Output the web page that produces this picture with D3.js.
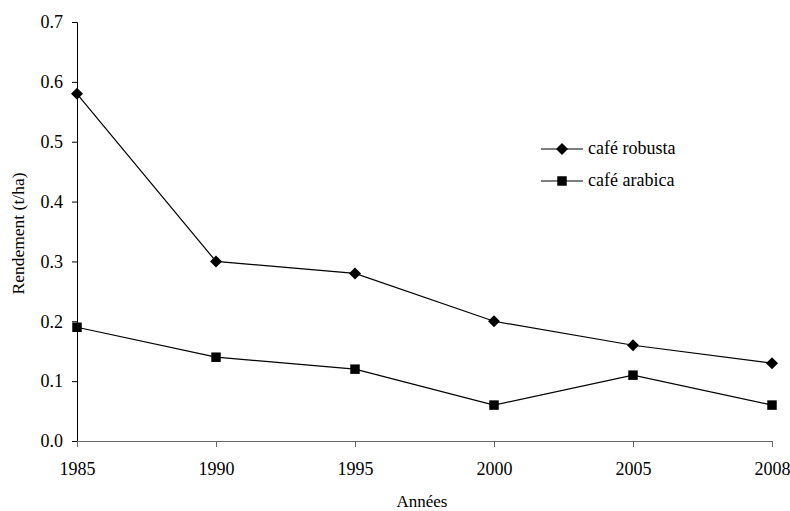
<!DOCTYPE html>
<html>
<head>
<meta charset="utf-8">
<script src="https://cdn.jsdelivr.net/npm/d3@7"></script>
<style>
    body { margin: 0; background: #fff; }
</style>
</head>
<body>
<div id="chart"></div>
<script>
var years = ["1985", "1990", "1995", "2000", "2005", "2008"];
var robusta = [0.58, 0.30, 0.28, 0.20, 0.16, 0.13];
var arabica = [0.19, 0.14, 0.12, 0.06, 0.11, 0.06];
var yTicks = [0, 0.1, 0.2, 0.3, 0.4, 0.5, 0.6, 0.7];

var width = 790, height = 511;
var margin = { left: 77, right: 18, top: 22, bottom: 70 };
var FONT = "'Liberation Serif', 'Times New Roman', serif";

var svg = d3.select("#chart").append("svg")
    .attr("width", width)
    .attr("height", height)
    .attr("font-family", FONT);

var x = d3.scalePoint()
    .domain(years)
    .range([margin.left, width - margin.right]);

var y = d3.scaleLinear()
    .domain([0, 0.7])
    .range([height - margin.bottom, margin.top]);

// y axis
var yAxis = svg.append("g")
    .attr("transform", "translate(" + margin.left + ",0)")
    .call(d3.axisLeft(y).tickValues(yTicks).tickFormat(d3.format(".1f")).tickSize(5).tickPadding(9));
yAxis.attr("font-family", FONT).attr("font-size", 18);
yAxis.select(".domain").attr("stroke", "#000");
yAxis.selectAll("text").attr("fill", "#000");

// x axis
var xAxis = svg.append("g")
    .attr("transform", "translate(0," + y(0) + ")")
    .call(d3.axisBottom(x).tickSize(6).tickPadding(15).tickSizeOuter(0));
xAxis.attr("font-family", FONT).attr("font-size", 18);
xAxis.select(".domain").attr("stroke", "#666");
xAxis.selectAll(".tick line").attr("stroke", "#666");
xAxis.selectAll("text").attr("fill", "#000");

// axis titles
svg.append("text")
    .attr("transform", "translate(24," + ((margin.top + y(0)) / 2 + 2) + ") rotate(-90)")
    .attr("text-anchor", "middle")
    .attr("font-size", 17.5)
    .text("Rendement (t/ha)");

svg.append("text")
    .attr("x", 422)
    .attr("y", 507)
    .attr("text-anchor", "middle")
    .attr("font-size", 17)
    .text("Années");

var line = d3.line()
    .x(function (d, i) { return x(years[i]); })
    .y(function (d) { return y(d); });

// square diamond, like the spreadsheet marker
var diamond = "M0,-6L6,0L0,6L-6,0Z";
var square = d3.symbol().type(d3.symbolSquare).size(90);

function drawSeries(values, sym) {
    svg.append("path")
        .datum(values)
        .attr("fill", "none")
        .attr("stroke", "#000")
        .attr("stroke-width", 1.2)
        .attr("d", line);
    svg.append("g").selectAll("path")
        .data(values)
        .enter().append("path")
        .attr("transform", function (d, i) { return "translate(" + x(years[i]) + "," + y(d) + ")"; })
        .attr("d", sym)
        .attr("fill", "#000");
}

drawSeries(robusta, diamond);
drawSeries(arabica, square);

// legend
var legend = [
    { name: "café robusta", sym: diamond, y: 149 },
    { name: "café arabica", sym: square, y: 181 }
];
legend.forEach(function (l) {
    var g = svg.append("g").attr("transform", "translate(541," + l.y + ")");
    g.append("line").attr("x1", 0).attr("x2", 42).attr("stroke", "#000").attr("stroke-width", 1.2);
    g.append("path").attr("d", l.sym).attr("transform", "translate(21,0)").attr("fill", "#000");
    g.append("text").attr("x", 47).attr("y", 5).attr("font-size", 18).text(l.name);
});
</script>
</body>
</html>
